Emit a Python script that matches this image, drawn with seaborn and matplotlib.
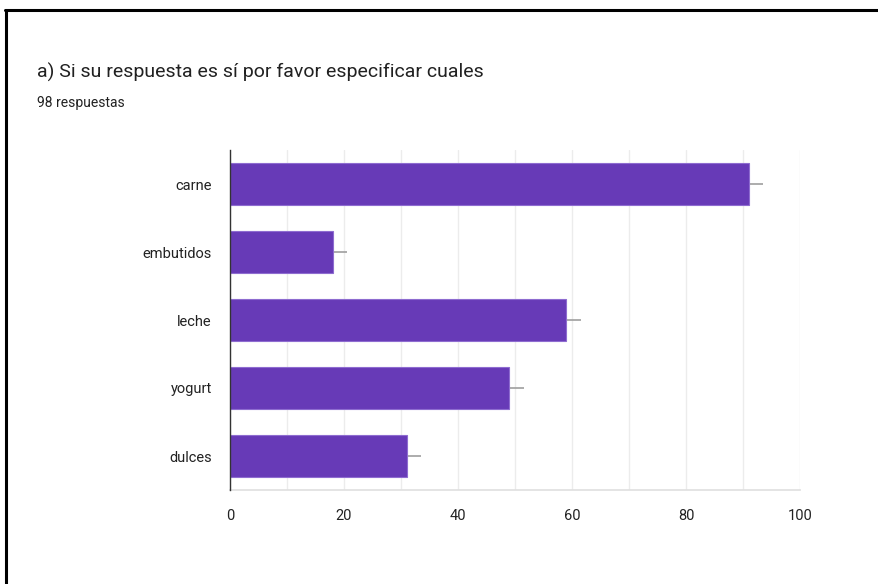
import matplotlib
matplotlib.use("Agg")
import matplotlib.pyplot as plt
from matplotlib.lines import Line2D
from matplotlib.ticker import MultipleLocator
import pandas as pd
import seaborn as sns

# Datos
categorias = ["carne", "embutidos", "leche", "yogurt", "dulces"]
respuestas = [91, 18, 59, 49, 31]
ticks_x = [0, 20, 40, 60, 80, 100]

titulo = "a) Si su respuesta es sí por favor especificar cuales"
subtitulo = "98 respuestas"

df = pd.DataFrame({"categoria": categorias, "respuestas": respuestas})

sns.set_theme(style="white")
plt.rcParams["font.family"] = ["Roboto", "DejaVu Sans"]

fig = plt.figure(figsize=(8.79, 5.84), dpi=100)
ax = fig.add_axes([230 / 879, 1 - 490 / 584, 570 / 879, 340 / 584])

sns.barplot(data=df, x="respuestas", y="categoria", orient="h",
            color="#673ab7", saturation=1, width=0.63, ax=ax, zorder=3,
            edgecolor="#8e6cd0", linewidth=0.8)

# pequeño trazo gris al final de cada barra
ax.hlines(df.index, df["respuestas"], df["respuestas"] + 2.5,
          color="#9e9e9e", lw=1.2, zorder=2)

ax.set_xlim(0, 100)
ax.set_ylim(4.5, -0.5)
ax.set_xticks(ticks_x)
ax.xaxis.set_minor_locator(MultipleLocator(10))
ax.grid(axis="x", which="both", color="#ececec", lw=1, zorder=0)
ax.set_xlabel("")
ax.set_ylabel("")

for s in ["top", "right"]:
    ax.spines[s].set_visible(False)
ax.spines["bottom"].set_color("#e0e0e0")
ax.spines["left"].set_color("#333333")
ax.spines["left"].set_linewidth(1)
ax.spines["left"].set_zorder(5)
ax.tick_params(axis="both", length=0, labelsize=10.5, colors="#222222")
ax.tick_params(axis="x", pad=14)
ax.tick_params(axis="y", pad=13)

fig.text(37 / 879, 1 - 72 / 584, titulo, fontsize=14, color="#212121",
         va="center", ha="left")
fig.text(37 / 879, 1 - 103 / 584, subtitulo, fontsize=10, color="#212121",
         va="center", ha="left")

# marco negro de la captura
fig.add_artist(Line2D([5 / 879, 1], [1 - 10 / 584] * 2, color="black", lw=2.2,
                      transform=fig.transFigure))
fig.add_artist(Line2D([6 / 879] * 2, [0, 1 - 10 / 584], color="black", lw=2.2,
                      transform=fig.transFigure))

fig.savefig("out.png", dpi=100, facecolor="white")
